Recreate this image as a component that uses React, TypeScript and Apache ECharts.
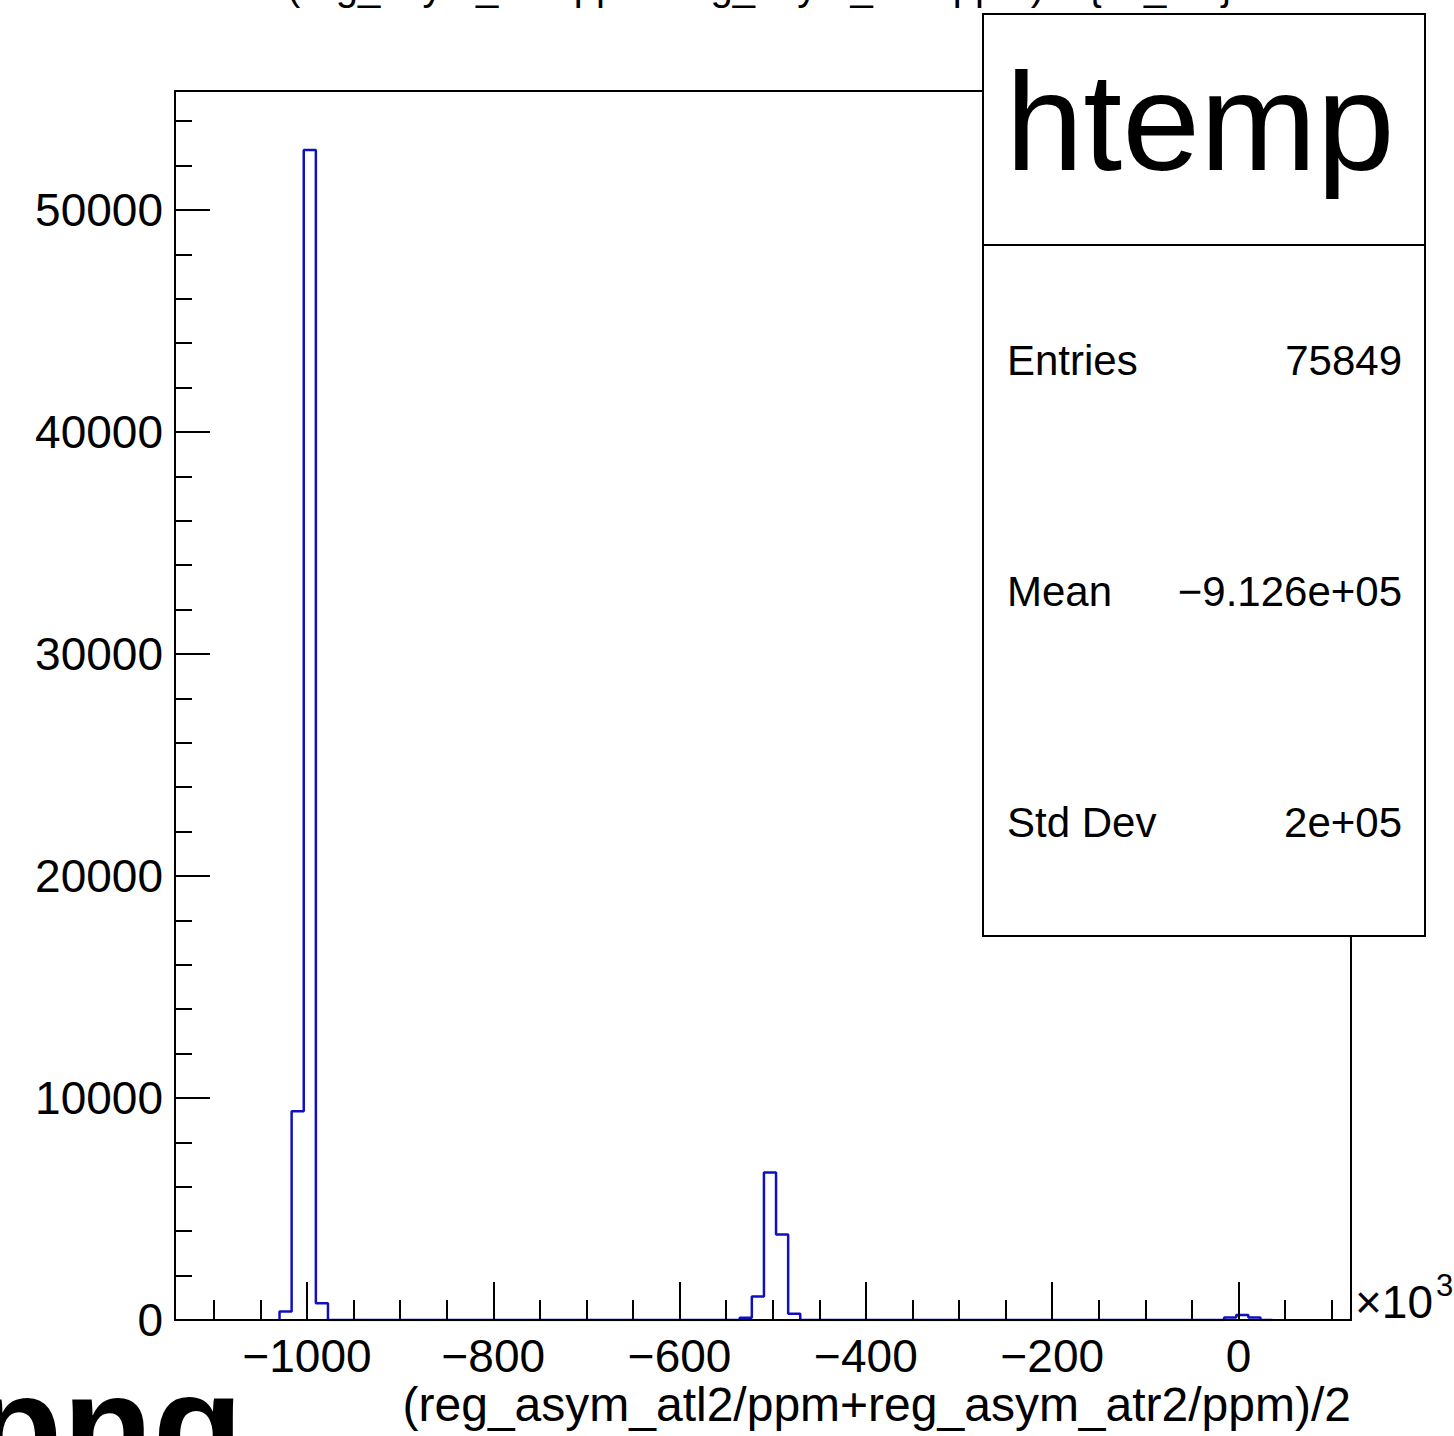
import React, { useEffect, useRef } from "react";
import * as echarts from "echarts";

// ---- data ----
const binLowEdge = -1029.5; // x of the first filled bin's low edge (units of 10^3)
const binWidth = 13;
const nBins = 82;
const filledBins = [0, 1, 2, 3, 38, 39, 40, 41, 42, 78, 79, 80];
const filledCounts = [380, 9400, 52700, 750, 100, 1060, 6640, 3850, 280, 110, 230, 110];

const xMajorTicks = [-1000, -800, -600, -400, -200, 0];
const xMinorTicks = [-1100, -1050, -950, -900, -850, -750, -700, -650, -550, -500, -450, -350, -300, -250, -150, -100, -50, 50, 100];
const yMajorTicks = [0, 10000, 20000, 30000, 40000, 50000];
const yMinorTicks = [2000, 4000, 6000, 8000, 12000, 14000, 16000, 18000, 22000, 24000, 26000, 28000, 32000, 34000, 36000, 38000, 42000, 44000, 46000, 48000, 52000, 54000];

const xRange = [-1141.7, 120.7];
const yRange = [0, 55360];

const statsName = "htemp";
const statsLabels = ["Entries", "Mean", "Std Dev"];
const statsValues = ["75849", "\u22129.126e+05", "2e+05"];

const titleText = "(reg_asym_atl2/ppm+reg_asym_atr2/ppm)/2 {ok_cut}";
const xTitleText = "(reg_asym_atl2/ppm+reg_asym_atr2/ppm)/2";

const FONT = "'Liberation Sans', Arial, Helvetica, sans-serif";
const BLUE = "#1010c0";

function buildHist() {
  const counts: number[] = new Array(nBins).fill(0);
  filledBins.forEach((b, i) => {
    counts[b] = filledCounts[i];
  });
  const pts: number[][] = [[binLowEdge, 0]];
  for (let k = 0; k < nBins; k++) {
    const lo = binLowEdge + k * binWidth;
    const hi = lo + binWidth;
    pts.push([lo, counts[k]]);
    pts.push([hi, counts[k]]);
  }
  pts.push([binLowEdge + nBins * binWidth, 0]);
  return pts;
}

const fmtX = (v: number) => (v < 0 ? "\u2212" + Math.abs(v) : String(v));
const fmtY = (v: number) => String(v);

export default function App() {
  const ref = useRef<HTMLDivElement>(null);
  useEffect(() => {
    if (!ref.current) return;
    const chart = echarts.init(ref.current, undefined, { renderer: "svg" });
    const gridLeft = 175;
    const gridTop = 91;
    const gridW = 1176;
    const gridH = 1229;
    const axisCommon = {
      type: "value" as const,
      splitLine: { show: false },
      z: 10,
    };
    const option: any = {
      animation: false,
      backgroundColor: "#ffffff",
      grid: {
        left: gridLeft,
        top: gridTop,
        width: gridW,
        height: gridH,
        show: true,
        borderColor: "#000",
        borderWidth: 2,
        backgroundColor: "transparent",
      },
      xAxis: [
        {
          ...axisCommon,
          min: xRange[0],
          max: xRange[1],
          position: "bottom",
          axisLine: { show: true, onZero: false, lineStyle: { color: "#000", width: 2 } },
          axisTick: { show: true, inside: true, length: 38, customValues: xMajorTicks, lineStyle: { color: "#000", width: 2 } },
          axisLabel: {
            show: true,
            customValues: xMajorTicks,
            formatter: fmtX,
            margin: 13,
            color: "#000",
            fontFamily: FONT,
            fontSize: 46,
          },
        },
        {
          ...axisCommon,
          min: xRange[0],
          max: xRange[1],
          position: "bottom",
          axisLine: { show: false, onZero: false },
          axisTick: { show: true, inside: true, length: 20, customValues: xMinorTicks, lineStyle: { color: "#000", width: 2 } },
          axisLabel: { show: false },
        },
      ],
      yAxis: [
        {
          ...axisCommon,
          min: yRange[0],
          max: yRange[1],
          position: "left",
          axisLine: { show: true, onZero: false, lineStyle: { color: "#000", width: 2 } },
          axisTick: { show: true, inside: true, length: 35, customValues: yMajorTicks, lineStyle: { color: "#000", width: 2 } },
          axisLabel: {
            show: true,
            customValues: yMajorTicks,
            formatter: fmtY,
            margin: 12,
            color: "#000",
            fontFamily: FONT,
            fontSize: 46,
            padding: [6, 0, 0, 0],
          },
        },
        {
          ...axisCommon,
          min: yRange[0],
          max: yRange[1],
          position: "left",
          axisLine: { show: false, onZero: false },
          axisTick: { show: true, inside: true, length: 17, customValues: yMinorTicks, lineStyle: { color: "#000", width: 2 } },
          axisLabel: { show: false },
        },
      ],
      series: [
        {
          type: "line",
          xAxisIndex: 0,
          yAxisIndex: 0,
          data: buildHist(),
          showSymbol: false,
          symbol: "none",
          lineStyle: { color: BLUE, width: 2.5 },
          z: 2,
        },
      ],
      graphic: [
        {
          type: "text",
          x: 760,
          y: -14,
          z: 50,
          style: { text: titleText, font: `40px ${FONT}`, fill: "#000", textAlign: "center", textVerticalAlign: "middle" },
        },
        {
          type: "text",
          x: 1351,
          y: 1404,
          z: 50,
          style: { text: xTitleText, font: `48px ${FONT}`, fill: "#000", textAlign: "right", textVerticalAlign: "middle" },
        },
        {
          type: "text",
          x: 1355,
          y: 1302,
          z: 50,
          style: { text: "\u00d710", font: `46px ${FONT}`, fill: "#000", textAlign: "left", textVerticalAlign: "middle" },
        },
        {
          type: "text",
          x: 1436,
          y: 1285,
          z: 50,
          style: { text: "3", font: `31px ${FONT}`, fill: "#000", textAlign: "left", textVerticalAlign: "middle" },
        },
        {
          type: "rect",
          z: 100,
          shape: { x: 983, y: 14, width: 442, height: 922 },
          style: { fill: "#fff", stroke: "#000", lineWidth: 2 },
        },
        {
          type: "line",
          z: 101,
          shape: { x1: 983, y1: 245, x2: 1425, y2: 245 },
          style: { stroke: "#000", lineWidth: 2 },
        },
        {
          type: "text",
          x: 1200,
          y: 121,
          z: 101,
          style: { text: statsName, font: `140px ${FONT}`, fill: "#000", textAlign: "center", textVerticalAlign: "middle" },
        },
        ...statsLabels.map((lab, i) => ({
          type: "text",
          x: 1007,
          y: 360 + i * 231,
          z: 101,
          style: { text: lab, font: `42px ${FONT}`, fill: "#000", textAlign: "left", textVerticalAlign: "middle" },
        })),
        ...statsValues.map((val, i) => ({
          type: "text",
          x: 1402,
          y: 360 + i * 231,
          z: 101,
          style: { text: val, font: `42px ${FONT}`, fill: "#000", textAlign: "right", textVerticalAlign: "middle" },
        })),
        {
          type: "text",
          x: -28,
          y: 1426,
          z: 50,
          style: { text: "png", font: `bold 148px ${FONT}`, fill: "#000", textAlign: "left", textVerticalAlign: "middle" },
        },
      ],
    };
    chart.setOption(option);
    return () => chart.dispose();
  }, []);
  return (
    <div
      ref={ref}
      style={{ position: "fixed", left: 0, top: 0, width: 1454, height: 1436, background: "#fff" }}
    />
  );
}
